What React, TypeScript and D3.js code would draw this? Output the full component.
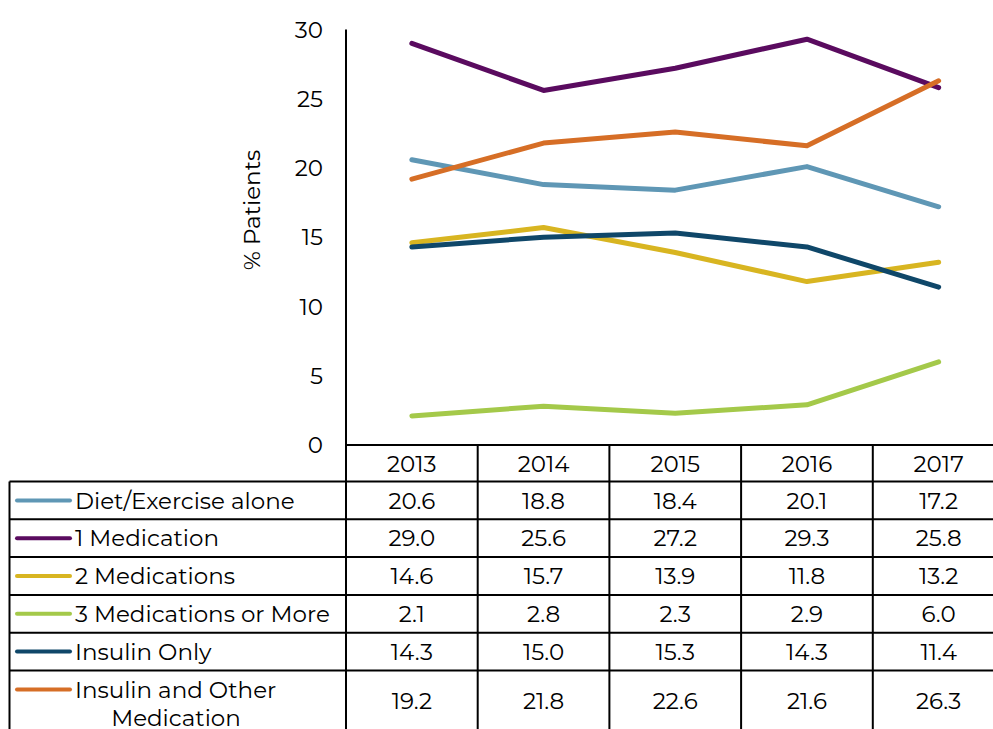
import React, { useEffect, useRef } from "react";
import * as d3 from "d3";

const years = ["2013", "2014", "2015", "2016", "2017"];
const seriesNames = [
  "Diet/Exercise alone",
  "1 Medication",
  "2 Medications",
  "3 Medications or More",
  "Insulin Only",
  "Insulin and Other Medication",
];
const dietExercise = [20.6, 18.8, 18.4, 20.1, 17.2];
const oneMed = [29.0, 25.6, 27.2, 29.3, 25.8];
const twoMeds = [14.6, 15.7, 13.9, 11.8, 13.2];
const threeMeds = [2.1, 2.8, 2.3, 2.9, 6.0];
const insulinOnly = [14.3, 15.0, 15.3, 14.3, 11.4];
const insulinOther = [19.2, 21.8, 22.6, 21.6, 26.3];
const colors = ["#5f97b5", "#5a0b5f", "#d8b521", "#a4c94a", "#0f4769", "#d66e26"];
const yTicks = [0, 5, 10, 15, 20, 25, 30];

const FONT = "Montserrat, 'Open Sans', 'Noto Sans', sans-serif";
const FS = 23;

const App = () => {
  const ref = useRef<SVGSVGElement>(null);

  useEffect(() => {
    const values = [dietExercise, oneMed, twoMeds, threeMeds, insulinOnly, insulinOther];
    const width = 993;
    const height = 729;
    const plotLeft = 346;
    const colW = 131.7;
    const tableLeft = 9.5;
    const rowTop = 481.5;
    const rowH = 37.8;

    const svg = d3.select(ref.current);
    svg.selectAll("*").remove();

    const x = d3.scaleBand<string>()
      .domain(years)
      .range([plotLeft, plotLeft + colW * years.length]);

    const y = d3.scaleLinear().domain([0, 30]).range([445, 29.5]);

    // y axis
    svg.append("line")
      .attr("x1", plotLeft).attr("x2", plotLeft)
      .attr("y1", y(30)).attr("y2", y(0))
      .attr("stroke", "#000").attr("stroke-width", 2);

    svg.append("g")
      .selectAll("text")
      .data(yTicks)
      .enter().append("text")
      .attr("x", 323)
      .attr("y", d => y(d))
      .attr("dy", "0.35em")
      .attr("text-anchor", "end")
      .attr("font-family", FONT)
      .attr("font-size", FS)
      .text(d => d);

    svg.append("text")
      .attr("transform", `translate(260,${210}) rotate(-90)`)
      .attr("text-anchor", "middle")
      .attr("font-family", FONT)
      .attr("font-size", FS)
      .text("% Patients");

    // lines
    const line = d3.line<number>()
      .x((_, i) => (x(years[i]) as number) + x.bandwidth() / 2)
      .y(d => y(d));

    svg.append("g")
      .selectAll("path")
      .data(values)
      .enter().append("path")
      .attr("d", d => line(d))
      .attr("fill", "none")
      .attr("stroke", (_, i) => colors[i])
      .attr("stroke-width", 5)
      .attr("stroke-linecap", "round")
      .attr("stroke-linejoin", "round");

    // data table
    const grid = svg.append("g").attr("stroke", "#000").attr("stroke-width", 2);
    const tableRight = plotLeft + colW * years.length;
    const rowYs = d3.range(seriesNames.length).map(i => rowTop + i * rowH);

    grid.append("line")
      .attr("x1", plotLeft).attr("x2", tableRight)
      .attr("y1", y(0)).attr("y2", y(0));
    rowYs.forEach(ry => {
      grid.append("line")
        .attr("x1", tableLeft).attr("x2", tableRight)
        .attr("y1", ry).attr("y2", ry);
    });
    grid.append("line")
      .attr("x1", tableLeft).attr("x2", tableLeft)
      .attr("y1", rowTop).attr("y2", height + 5);
    years.forEach((yr, i) => {
      const cx = x(yr) as number;
      grid.append("line")
        .attr("x1", cx + colW).attr("x2", cx + colW)
        .attr("y1", y(0)).attr("y2", height + 5);
      if (i === 0) {
        grid.append("line")
          .attr("x1", cx).attr("x2", cx)
          .attr("y1", y(0)).attr("y2", height + 5);
      }
    });

    // year header
    svg.append("g")
      .selectAll("text")
      .data(years)
      .enter().append("text")
      .attr("x", d => (x(d) as number) + x.bandwidth() / 2)
      .attr("y", (y(0) + rowTop) / 2)
      .attr("dy", "0.36em")
      .attr("text-anchor", "middle")
      .attr("font-family", FONT)
      .attr("font-size", FS)
      .text(d => d);

    const lastH = height - rowYs[5];

    seriesNames.forEach((name, i) => {
      const top = rowYs[i];
      const isLast = i === seriesNames.length - 1;
      const midY = isLast ? top + lastH / 2 + 1 : top + rowH / 2;
      const firstY = isLast ? top + rowH / 2 : midY;

      svg.append("line")
        .attr("x1", 17).attr("x2", 70)
        .attr("y1", firstY).attr("y2", firstY)
        .attr("stroke", colors[i])
        .attr("stroke-width", 4)
        .attr("stroke-linecap", "round");

      if (isLast) {
        svg.append("text")
          .attr("x", 75).attr("y", firstY).attr("dy", "0.36em")
          .attr("font-family", FONT).attr("font-size", FS)
          .text("Insulin and Other");
        svg.append("text")
          .attr("x", 176).attr("y", firstY + 28).attr("dy", "0.36em")
          .attr("text-anchor", "middle")
          .attr("font-family", FONT).attr("font-size", FS)
          .text("Medication");
      } else {
        svg.append("text")
          .attr("x", 75).attr("y", midY).attr("dy", "0.36em")
          .attr("font-family", FONT).attr("font-size", FS)
          .text(name);
      }

      svg.append("g")
        .selectAll("text")
        .data(values[i])
        .enter().append("text")
        .attr("x", (_, j) => (x(years[j]) as number) + x.bandwidth() / 2)
        .attr("y", midY)
        .attr("dy", "0.36em")
        .attr("text-anchor", "middle")
        .attr("font-family", FONT)
        .attr("font-size", FS)
        .text(d => d.toFixed(1));
    });

    svg.attr("width", width).attr("height", height);
  }, []);

  return (
    <svg
      ref={ref}
      width={993}
      height={729}
      style={{ position: "absolute", left: 0, top: 0, background: "#fff" }}
    ></svg>
  );
};

export default App;
